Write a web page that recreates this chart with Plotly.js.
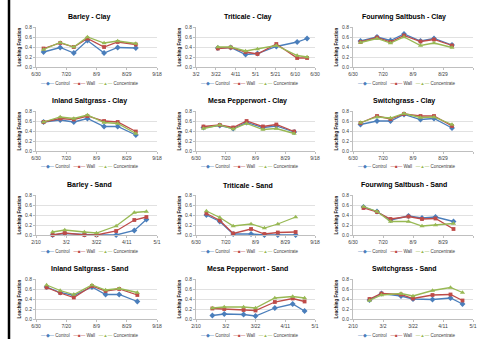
<!DOCTYPE html>
<html><head><meta charset="utf-8">
<script src="https://cdn.plot.ly/plotly-3.0.1.min.js"></script>
<style>html,body{margin:0;padding:0;background:#fff;overflow:hidden}#chart{width:477px;height:339px}</style>
</head><body><div id="chart"></div>
<script>
// ---- data ----
const seriesNames = ['Control', 'Wall', 'Concentrate'];
const chartTitles = ['Barley - Clay', 'Triticale - Clay', 'Fourwing Saltbush - Clay',
  'Inland Saltgrass - Clay', 'Mesa Pepperwort - Clay', 'Switchgrass - Clay',
  'Barley - Sand', 'Triticale - Sand', 'Fourwing Saltbush - Sand',
  'Inland Saltgrass - Sand', 'Mesa Pepperwort - Sand', 'Switchgrass - Sand'];

const claySummerDates = ['2011-07-05', '2011-07-16', '2011-07-25', '2011-08-03', '2011-08-14', '2011-08-23', '2011-09-04'];
const triticaleClayDates = ['2011-03-24', '2011-04-06', '2011-04-21', '2011-05-03', '2011-05-22', '2011-06-12', '2011-06-22'];
const sandSpringDates = ['2011-02-21', '2011-03-01', '2011-03-14', '2011-03-22', '2011-04-04', '2011-04-16', '2011-04-24'];
const sandSummerDates = ['2011-07-07', '2011-07-16', '2011-07-25', '2011-08-06', '2011-08-15', '2011-08-24', '2011-09-05'];

const summerRange = ['2011-06-30', '2011-09-18'];
const springRange = ['2011-02-10', '2011-05-01'];
const triticaleRange = ['2011-03-02', '2011-06-30'];

const barleyClayControl = [0.30, 0.39, 0.28, 0.53, 0.28, 0.39, 0.38];
const barleyClayWall = [0.37, 0.48, 0.40, 0.57, 0.40, 0.50, 0.45];
const barleyClayConc = [0.35, 0.49, 0.40, 0.60, 0.48, 0.52, 0.47];

const triticaleClayControl = [0.38, 0.39, 0.25, 0.27, 0.41, 0.50, 0.57];
const triticaleClayWall = [0.37, 0.39, 0.30, 0.26, 0.46, 0.18, 0.18];
const triticaleClayConc = [0.40, 0.40, 0.32, 0.36, 0.43, 0.23, 0.20];

const fourwingClayControl = [0.52, 0.60, 0.53, 0.66, 0.52, 0.57, 0.44];
const fourwingClayWall = [0.50, 0.59, 0.50, 0.63, 0.51, 0.55, 0.43];
const fourwingClayConc = [0.49, 0.57, 0.48, 0.60, 0.43, 0.48, 0.39];

const inlandClayControl = [0.58, 0.62, 0.58, 0.65, 0.49, 0.49, 0.32];
const inlandClayWall = [0.58, 0.65, 0.63, 0.70, 0.60, 0.58, 0.39];
const inlandClayConc = [0.58, 0.68, 0.65, 0.72, 0.57, 0.55, 0.35];

const mesaClayControl = [0.47, 0.51, 0.45, 0.57, 0.47, 0.50, 0.38];
const mesaClayWall = [0.49, 0.52, 0.47, 0.60, 0.49, 0.53, 0.39];
const mesaClayConc = [0.45, 0.52, 0.44, 0.55, 0.43, 0.45, 0.35];

const switchClayControl = [0.53, 0.60, 0.60, 0.73, 0.63, 0.65, 0.46];
const switchClayWall = [0.56, 0.70, 0.64, 0.74, 0.70, 0.70, 0.50];
const switchClayConc = [0.57, 0.68, 0.66, 0.75, 0.67, 0.68, 0.53];

const barleySandControl = [0.00, 0.03, 0.01, 0.00, 0.00, 0.09, 0.31];
const barleySandWall = [0.00, 0.04, 0.00, 0.00, 0.08, 0.30, 0.36];
const barleySandConc = [0.06, 0.10, 0.06, 0.04, 0.18, 0.45, 0.47];

const triticaleSandControl = [0.40, 0.27, 0.02, 0.02, 0.00, 0.00, 0.00];
const triticaleSandWall = [0.43, 0.29, 0.03, 0.12, 0.02, 0.05, 0.06];
const triticaleSandConc = [0.48, 0.35, 0.18, 0.22, 0.14, 0.22, 0.36];

const fourwingSandControl = [0.56, 0.47, 0.30, 0.38, 0.34, 0.36, 0.27];
const fourwingSandWall = [0.54, 0.46, 0.32, 0.37, 0.32, 0.33, 0.12];
const fourwingSandConc = [0.57, 0.47, 0.27, 0.27, 0.18, 0.20, 0.23];

const inlandSandControl = [0.64, 0.53, 0.47, 0.64, 0.49, 0.49, 0.35];
const inlandSandWall = [0.63, 0.52, 0.43, 0.66, 0.56, 0.60, 0.48];
const inlandSandConc = [0.68, 0.57, 0.49, 0.68, 0.58, 0.61, 0.53];

const mesaSandControl = [0.07, 0.10, 0.09, 0.06, 0.22, 0.30, 0.16];
const mesaSandWall = [0.21, 0.20, 0.18, 0.17, 0.34, 0.41, 0.35];
const mesaSandConc = [0.22, 0.24, 0.24, 0.22, 0.42, 0.45, 0.42];

const switchSandControl = [0.38, 0.51, 0.46, 0.40, 0.39, 0.42, 0.30];
const switchSandWall = [0.40, 0.51, 0.49, 0.41, 0.48, 0.49, 0.37];
const switchSandConc = [0.37, 0.48, 0.51, 0.46, 0.57, 0.63, 0.53];

// ---- build ----
const charts = [
  [claySummerDates, summerRange, barleyClayControl, barleyClayWall, barleyClayConc],
  [triticaleClayDates, triticaleRange, triticaleClayControl, triticaleClayWall, triticaleClayConc],
  [claySummerDates, summerRange, fourwingClayControl, fourwingClayWall, fourwingClayConc],
  [claySummerDates, summerRange, inlandClayControl, inlandClayWall, inlandClayConc],
  [claySummerDates, summerRange, mesaClayControl, mesaClayWall, mesaClayConc],
  [claySummerDates, summerRange, switchClayControl, switchClayWall, switchClayConc],
  [sandSpringDates, springRange, barleySandControl, barleySandWall, barleySandConc],
  [sandSummerDates, summerRange, triticaleSandControl, triticaleSandWall, triticaleSandConc],
  [sandSummerDates, summerRange, fourwingSandControl, fourwingSandWall, fourwingSandConc],
  [sandSummerDates, summerRange, inlandSandControl, inlandSandWall, inlandSandConc],
  [sandSpringDates, springRange, mesaSandControl, mesaSandWall, mesaSandConc],
  [sandSpringDates, springRange, switchSandControl, switchSandWall, switchSandConc]
];

const W = 477, H = 339;
const colX = [[36, 157], [196, 315], [353, 473]];
const colTitleX = [89, 248, 404];
const colLegendX = [90, 250, 407];
const rowY = [[27, 67], [111, 151], [195, 235], [279, 319]];
const colors = ['#4A7EBB', '#BE4B48', '#98B954'];
const symbols = ['diamond', 'square', 'triangle-up'];
const sizes = [4.5, 3.8, 4.5];
const FONT = 'Liberation Sans, Arial, sans-serif';

const data = [];
const layout = {
  width: W, height: H, margin: {l: 0, r: 0, t: 0, b: 0},
  paper_bgcolor: '#fff', plot_bgcolor: '#fff', showlegend: false,
  font: {family: FONT, size: 5, color: '#404040'},
  annotations: [], shapes: []
};

charts.forEach((c, i) => {
  const col = i % 3, row = Math.floor(i / 3);
  const n = i + 1, sfx = n === 1 ? '' : String(n);
  const [dates, range, ctrl, wall, conc] = c;
  [ctrl, wall, conc].forEach((vals, s) => {
    data.push({
      type: 'scatter', mode: 'lines+markers', name: seriesNames[s],
      x: dates, y: vals, xaxis: 'x' + sfx, yaxis: 'y' + sfx,
      line: {color: colors[s], width: 1.3},
      marker: {symbol: symbols[s], size: sizes[s], color: colors[s]},
      cliponaxis: false, hoverinfo: 'skip'
    });
  });
  const xd = [colX[col][0] / W, colX[col][1] / W];
  const yd = [1 - rowY[row][1] / H, 1 - rowY[row][0] / H];
  layout['xaxis' + sfx] = {
    type: 'date', domain: xd, anchor: 'y' + sfx, range: range,
    tick0: range[0], dtick: 20 * 86400000, tickformat: '%-m/%-d',
    showgrid: false, showline: true, linecolor: '#BFBFBF', linewidth: 1,
    ticks: 'outside', ticklen: 2, tickcolor: '#BFBFBF',
    tickfont: {size: 5, color: '#404040', family: FONT}, fixedrange: true
  };
  layout['yaxis' + sfx] = {
    domain: yd, anchor: 'x' + sfx, range: [0, 0.8], dtick: 0.2, tick0: 0,
    tickformat: '.1f', showgrid: true, gridcolor: '#D9D9D9', gridwidth: 0.8,
    zeroline: false, showline: true, linecolor: '#BFBFBF', linewidth: 1,
    ticks: 'outside', ticklen: 2, tickcolor: '#BFBFBF',
    tickfont: {size: 5, color: '#404040', family: FONT}, fixedrange: true,
    title: {text: '<b>Leaching Fraction</b>', font: {size: 4.5, color: '#222', family: FONT}, standoff: 3}
  };
  layout.annotations.push({
    xref: 'paper', yref: 'paper', x: colTitleX[col] / W, y: 1 - (rowY[row][0] - 10) / H,
    text: '<b>' + chartTitles[i] + '</b>', showarrow: false,
    font: {size: 7, color: '#000', family: FONT}, xanchor: 'center', yanchor: 'middle'
  });
  const legendText = seriesNames.map((nm, s) =>
    '<span style="color:' + colors[s] + '">—' + ['◆', '■', '▲'][s] + '—</span> ' + nm).join('\u00a0\u00a0\u00a0');
  layout.annotations.push({
    xref: 'paper', yref: 'paper', x: colLegendX[col] / W, y: 1 - (rowY[row][1] + 16) / H,
    text: legendText, showarrow: false,
    font: {size: 4.5, color: '#404040', family: FONT}, xanchor: 'center', yanchor: 'middle'
  });
});

layout.shapes.push({type: 'line', xref: 'paper', yref: 'paper', x0: 9 / W, x1: 9 / W, y0: 0, y1: 1,
  line: {color: '#000', width: 2.5}});

Plotly.newPlot('chart', data, layout, {staticPlot: true, displayModeBar: false});
</script>
</body></html>
